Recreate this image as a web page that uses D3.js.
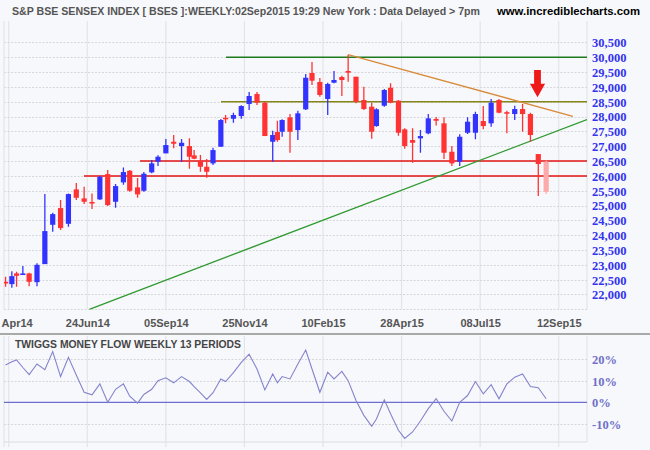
<!DOCTYPE html>
<html><head><meta charset="utf-8">
<script src="https://cdn.jsdelivr.net/npm/d3@7/dist/d3.min.js"></script>
<style>
body{margin:0;background:#f7f8fb;}
svg{display:block;}
</style>
</head><body>
<svg id="chart" width="650" height="450"></svg>
<script>
// ---------- DATA ----------
// trading days in each week (bars are placed at the last trading day of the week)
const weekDays = [5,4,3,4,4,5,5,5,5,5,5,5,5,5,5,5,5,4,5,4,5,4,5,5,5,5,3,4,4,4,5,3,5,5,5,5,5,5,3,3,5,5,5,4,5,5,4,5,4,5,5,5,3,5,4,5,4,5,5,5,5,5,5,5,5,5,5,5,5,5,5,5,5,5,5];
const open  = [22427,22349,22710,22680,22710,22416,23024,24350,24914,24384,25545,25241,25120,25207,26061,25127,25781,26173,25613,25498,26119,26477,26760,27152,27006,27006,26693,26510,26308,26422,26983,27962,27928,28019,28424,28761,28468,27152,27479,27489,27975,27546,28245,29470,29166,28593,29143,29335,29538,29345,28559,28333,27681,28367,28974,28535,27570,27209,27266,27435,27920,27773,26814,26477,27455,27455,27850,27773,28559,28150,28086,28255,28086,26736,26477];
const high  = [22595,22787,22764,22960,22730,23057,25386,24755,25184,25410,25758,25633,25410,25994,26196,25724,26287,26196,25926,26129,26534,26693,27243,27378,27243,27266,26871,26703,26568,26949,27918,28053,28130,28380,28829,28829,28502,27523,27860,27907,28086,28198,29436,29841,29301,29143,29538,29379,30090,29345,29008,28468,28279,28930,29122,28559,27604,27604,27546,28086,27990,27975,27006,27401,27975,28164,28356,28593,28593,28198,28367,28424,28130,26736,26510];
const low   = [22258,22224,22258,22670,22281,22281,23024,24114,24171,24283,25184,25049,24880,25184,24981,24924,25700,25464,25262,25464,26085,26331,26760,26929,26477,26240,26558,26139,25937,26365,26983,27773,27793,27928,28221,28390,27344,26477,27152,27320,26780,27209,28221,29065,28670,28053,29122,28694,29177,28447,28221,27253,27658,28333,28447,27354,26915,26443,26780,27401,27700,26568,26331,26331,27411,27232,27570,27658,28110,27435,27884,27489,27152,25319,25386];
const close = [22370,22619,22629,22710,22427,23000,24138,24711,24239,25386,25262,25127,25100,25970,25015,25656,26129,25498,25376,26072,26422,26645,27040,27084,27118,26645,26578,26308,26139,26871,27884,27908,28053,28356,28694,28468,27344,27378,27209,27884,27489,28110,29311,29210,28728,29099,29234,29234,29480,28501,28255,27489,28245,28896,28468,27455,27006,27118,27344,27941,27860,26780,26422,27320,27827,28086,27681,28468,28130,28110,28255,28086,27378,26400,25464];
const partialWeeks = 1; // last bar is an incomplete week
// Twiggs money flow (%)
const moneyFlow = [17.4,18.9,19.7,16.2,12.9,17.8,15.2,23.6,12.0,20.9,12.7,4.7,3.5,8.6,0.1,6.1,8.6,2.9,-0.3,3.7,6.1,10.1,11.4,9.1,12.0,9.7,7.3,4.4,1.4,4.5,10.9,9.7,13.8,18.6,22.4,15.5,5.8,13.2,9.1,12.0,10.9,17.8,24.3,15.5,4.7,14.0,10.9,14.4,10.1,0.9,-6.0,-11.1,-7.7,1.2,-5.2,-12.9,-16.7,-13.7,-8.6,-2.9,1.7,-4.1,-8.6,0.1,3.2,9.7,4.0,8.2,1.7,8.6,11.7,13.2,7.4,6.8,1.7];
// x axis ticks (trading-day positions) and labels
const tickDays   = [7,57,107,157,207,257,307,357];
const tickLabels = ["Apr14","24Jun14","05Sep14","25Nov14","10Feb15","28Apr15","08Jul15","12Sep15"];
const priceTicks = d3.range(22000, 30501, 500);
const mfTicks = [20,10,0,-10];
// horizontal support / resistance levels and where they start (trading day)
const levelPrices = [30000, 28500, 26500, 26000];
const levelStart  = [145.3, 142.1, 90.5, 54.9];
// trend lines: [startDay, startPrice, endDay, endPrice]
const supportTrend    = [58.3, 21500, 375, 27900];
const resistanceTrend = [223, 30090, 366, 28010];
// signal arrow: trading day, tip price, tail price
const arrowSignal = [343.5, 28650, 29570];

// ---------- STYLES ----------
const levelColors = ["#1d7a1d", "#85851a", "#e31414", "#e31414"];
const UP = "#3333ff", DOWN = "#ff3333", PARTIAL = "#ffaaaa";

// ---------- DERIVED ----------
const dayPos = [];
weekDays.reduce((acc, d, i) => { dayPos[i] = acc + d; return acc + d; }, 0);
const bars = dayPos.map((t, i) => ({t, o: open[i], h: high[i], l: low[i], c: close[i], mf: moneyFlow[i], i}));

const svg = d3.select("#chart");
svg.append("rect").attr("width", 650).attr("height", 450).attr("fill", "#f7f8fb");

const L = 4, R = 587, TOP = 21, BOT = 309.3;
const x = d3.scaleLinear().domain([4, 375]).range([L, R]);
const y = d3.scaleLinear().domain([21500, 30000]).range([BOT, 57.3]);
const LT = 336, LB = 442;
const y2 = d3.scaleLinear().domain([-10, 20]).range([424, 359.3]);

const defs = svg.append("defs");
defs.append("clipPath").attr("id", "clipMain").append("rect").attr("x", L).attr("y", TOP).attr("width", R - L).attr("height", BOT - TOP + 0.5);
defs.append("clipPath").attr("id", "clipLow").append("rect").attr("x", L).attr("y", LT).attr("width", R - L).attr("height", LB - LT);

// ---------- TITLE ----------
svg.append("text").attr("x", 12).attr("y", 14.5)
  .attr("font-family", "Liberation Sans, Arial, sans-serif").attr("font-weight", "bold").attr("font-size", 11)
  .attr("fill", "#555").attr("textLength", 468).attr("lengthAdjust", "spacingAndGlyphs")
  .text("S&P BSE SENSEX INDEX [ BSES ]:WEEKLY:02Sep2015 19:29 New York : Data Delayed > 7pm");
svg.append("text").attr("x", 497).attr("y", 14.5)
  .attr("font-family", "Liberation Sans, Arial, sans-serif").attr("font-weight", "bold").attr("font-size", 11)
  .attr("fill", "#000").attr("textLength", 143).attr("lengthAdjust", "spacingAndGlyphs")
  .text("www.incrediblecharts.com");

// ---------- GRID (main) ----------
const gMain = svg.append("g");
gMain.selectAll("line.vg").data(tickDays).join("line")
  .attr("x1", d => x(d)).attr("x2", d => x(d)).attr("y1", TOP).attr("y2", BOT)
  .attr("stroke", "#e3e4e8").attr("stroke-width", 1.2);
gMain.selectAll("line.hg").data(priceTicks.concat([21500])).join("line")
  .attr("x1", L).attr("x2", R).attr("y1", d => Math.round(y(d)) + 0.5).attr("y2", d => Math.round(y(d)) + 0.5)
  .attr("stroke", "#d6d7db").attr("stroke-dasharray", "2,1.5");
gMain.append("line").attr("x1", L).attr("x2", L).attr("y1", TOP).attr("y2", BOT).attr("stroke", "#e3e4e8").attr("stroke-width", 1.2);
gMain.append("line").attr("x1", R).attr("x2", R).attr("y1", TOP).attr("y2", BOT).attr("stroke", "#e3e4e8").attr("stroke-width", 1.2);

// ---------- LEVELS & TRENDS ----------
const gLines = svg.append("g").attr("clip-path", "url(#clipMain)");
gLines.selectAll("line.lvl").data(levelPrices).join("line")
  .attr("x1", (d, i) => x(levelStart[i])).attr("x2", x(375))
  .attr("y1", d => y(d)).attr("y2", d => y(d))
  .attr("stroke", (d, i) => levelColors[i]).attr("stroke-width", 1.5);
gLines.append("line")
  .attr("x1", x(supportTrend[0])).attr("y1", y(supportTrend[1]))
  .attr("x2", x(supportTrend[2])).attr("y2", y(supportTrend[3]))
  .attr("stroke", "#2f9a2f").attr("stroke-width", 1.3);
gLines.append("line")
  .attr("x1", x(resistanceTrend[0])).attr("y1", y(resistanceTrend[1]))
  .attr("x2", x(resistanceTrend[2])).attr("y2", y(resistanceTrend[3]))
  .attr("stroke", "#d98a3a").attr("stroke-width", 1.3);

// ---------- CANDLES ----------
const gC = svg.append("g").attr("clip-path", "url(#clipMain)");
const colorOf = d => d.i >= bars.length - partialWeeks ? PARTIAL : (d.c >= d.o ? UP : DOWN);
const cand = gC.selectAll("g.c").data(bars).join("g");
cand.append("line")
  .attr("x1", d => x(d.t)).attr("x2", d => x(d.t))
  .attr("y1", d => y(d.h)).attr("y2", d => y(d.l))
  .attr("stroke", colorOf).attr("stroke-width", 1.3);
cand.append("rect")
  .attr("x", d => x(d.t) - 2.6).attr("width", 5.2)
  .attr("y", d => y(Math.max(d.o, d.c)))
  .attr("height", d => Math.max(1.6, Math.abs(y(d.o) - y(d.c))))
  .attr("fill", colorOf);

// ---------- ARROW ----------
{
  const cx = x(arrowSignal[0]), tip = y(arrowSignal[1]), tail = y(arrowSignal[2]);
  const headH = 13.5, sw = 3.4, hw = 7.6;
  const hb = tip - headH;
  svg.append("path")
    .attr("d", `M${cx - sw},${tail} L${cx + sw},${tail} L${cx + sw},${hb} L${cx + hw},${hb} L${cx},${tip} L${cx - hw},${hb} L${cx - sw},${hb} Z`)
    .attr("fill", "#ee1a1a");
}

// ---------- AXES (main) ----------
const yAxis = svg.append("g").attr("transform", "translate(592,0)")
  .call(d3.axisRight(y).tickValues(priceTicks).tickSize(0).tickPadding(0).tickFormat(d3.format(",")));
yAxis.select(".domain").remove();
yAxis.selectAll("text").attr("font-family", "Liberation Serif, Times New Roman, serif")
  .attr("font-weight", "bold").attr("font-size", 12.5).attr("fill", "#3434ee").attr("dy", "0.35em");

const xAxis = svg.append("g").attr("transform", "translate(0,319)")
  .call(d3.axisBottom(x).tickValues(tickDays).tickSize(0).tickPadding(0).tickFormat((d, i) => tickLabels[i]));
xAxis.select(".domain").remove();
xAxis.selectAll("text").attr("font-family", "Liberation Sans, Arial, sans-serif")
  .attr("font-weight", "bold").attr("font-size", 11).attr("fill", "#555");
// first label sits at the left edge of the chart
xAxis.selectAll(".tick").filter((d, i) => i === 0).select("text")
  .attr("text-anchor", "start").attr("x", (d) => 1 - x(d));

// ---------- SEPARATOR ----------
svg.append("line").attr("x1", 0).attr("x2", 650).attr("y1", 334).attr("y2", 334).attr("stroke", "#a9a9a9").attr("stroke-width", 2);

// ---------- LOWER PANEL ----------
const gLow = svg.append("g");
gLow.selectAll("line.vg").data(tickDays).join("line")
  .attr("x1", d => x(d)).attr("x2", d => x(d)).attr("y1", LT).attr("y2", 447)
  .attr("stroke", "#e3e4e8").attr("stroke-width", 1.2);
gLow.append("line").attr("x1", L).attr("x2", L).attr("y1", LT).attr("y2", 447).attr("stroke", "#e3e4e8").attr("stroke-width", 1.2);
gLow.append("line").attr("x1", R).attr("x2", R).attr("y1", LT).attr("y2", LB).attr("stroke", "#e3e4e8").attr("stroke-width", 1.2);
gLow.selectAll("line.hg").data([20, 10, -10]).join("line")
  .attr("x1", L).attr("x2", R).attr("y1", d => Math.round(y2(d)) + 0.5).attr("y2", d => Math.round(y2(d)) + 0.5)
  .attr("stroke", "#d6d7db").attr("stroke-dasharray", "2,1.5");
gLow.append("line").attr("x1", L).attr("x2", R).attr("y1", LB).attr("y2", LB).attr("stroke", "#dcdde1");
gLow.append("line").attr("x1", L).attr("x2", R).attr("y1", y2(0)).attr("y2", y2(0))
  .attr("stroke", "#6e6ed0").attr("stroke-width", 1.3);

gLow.append("path").datum(bars).attr("clip-path", "url(#clipLow)")
  .attr("d", d3.line().x(d => x(d.t)).y(d => y2(d.mf)))
  .attr("fill", "none").attr("stroke", "#8484cc").attr("stroke-width", 1.1);

svg.append("text").attr("x", 15).attr("y", 347.5)
  .attr("font-family", "Liberation Sans, Arial, sans-serif").attr("font-weight", "bold").attr("font-size", 11)
  .attr("fill", "#454545").attr("textLength", 226).attr("lengthAdjust", "spacingAndGlyphs")
  .text("TWIGGS MONEY FLOW WEEKLY 13 PERIODS");

const y2Axis = svg.append("g").attr("transform", "translate(592,0)")
  .call(d3.axisRight(y2).tickValues(mfTicks).tickSize(0).tickPadding(0).tickFormat(d => d + "%"));
y2Axis.select(".domain").remove();
y2Axis.selectAll("text").attr("font-family", "Liberation Serif, Times New Roman, serif")
  .attr("font-weight", "bold").attr("font-size", 12.5).attr("fill", "#7070c8").attr("dy", "0.35em");
</script>
</body></html>
